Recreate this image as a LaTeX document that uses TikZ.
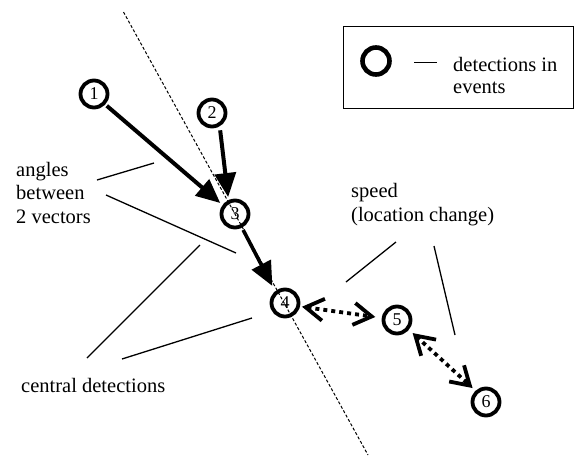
\documentclass[tikz,border=0pt]{standalone}
\usepackage{fontspec}
\setmainfont{Liberation Serif}
\usetikzlibrary{arrows.meta}
\begin{document}
\begin{tikzpicture}[x=1pt,y=-1pt,
  detection/.style={circle,draw,line width=3.8pt,minimum size=27pt,inner sep=0pt,
    font=\fontsize{18}{18}\selectfont},
  note/.style={align=left,inner sep=0pt,anchor=base west,
    font=\fontsize{20.5}{23.5}\selectfont},
  pointer/.style={line width=1.3pt},
  move/.style={line width=4pt,-{Triangle[length=24pt,width=21pt]}},
  hop/.style={line width=3.8pt,dash pattern=on 4pt off 4pt,
    {Straight Barb[length=18pt,width=22pt,line width=3.8pt]}-{Straight Barb[length=18pt,width=22pt,line width=3.8pt]}},
]
\useasboundingbox (0,0) rectangle (574,464);

% track axis
\coordinate (axtop) at (123.5,12);
\coordinate (axbot) at (368,455);
\draw[line width=1pt,dash pattern=on 3pt off 2pt] (axtop) -- (axbot);

% detections
\node[detection] (n1) at (94,94) {1};
\node[detection] (n2) at (212,113) {2};
\node[detection] (n3) at (235,214) {3};
\node[detection] (n4) at (285,303) {4};
\node[detection] (n5) at (397,320) {5};
\node[detection] (n6) at (486,402) {6};

% movement vectors
\draw[move,shorten <=2pt,shorten >=3pt] (n1.-43) -- (n3.144);
\draw[move,shorten <=4pt,shorten >=3pt] (n2.-60) -- (n3.115);
\draw[move,line width=3.6pt,shorten <=2.5pt,shorten >=6pt] (n3.-63) -- (n4.130);

% location changes
\draw[hop,shorten <=2pt,shorten >=6.5pt] (n4.-13) -- (n5.172);
\draw[hop,shorten <=5pt,shorten >=4pt] (n5.-39) -- (n6.133);

% labels (base anchor sits on the last line)
\node[note] (angles) at (16,223) {angles\\between\\2 vectors};
\node[note] (central) at (21,392) {central detections};
\node[note] (speed) at (351,221) {speed\\(location change)};

% pointer lines
\coordinate (a1s) at (97,180);  \coordinate (a1e) at (154,163);
\coordinate (a2s) at (106,195); \coordinate (a2e) at (236,253);
\coordinate (c1s) at (87,358);  \coordinate (c1e) at (200,245);
\coordinate (c2s) at (122,359); \coordinate (c2e) at (252,318);
\coordinate (s1s) at (346,282); \coordinate (s1e) at (396,242);
\coordinate (s2s) at (434,246); \coordinate (s2e) at (455,335);
\draw[pointer] (a1s) -- (a1e);
\draw[pointer] (a2s) -- (a2e);
\draw[pointer] (c1s) -- (c1e);
\draw[pointer] (c2s) -- (c2e);
\draw[pointer] (s1s) -- (s1e);
\draw[pointer] (s2s) -- (s2e);

% legend
\node[draw,line width=1.3pt,minimum width=230pt,minimum height=82pt,inner sep=0pt,anchor=north west] (legend) at (343,26) {};
\node[circle,draw,line width=4.6pt,minimum size=27pt,inner sep=0pt] (legcirc) at (376,61) {};
\coordinate (dashL) at (414,62.5);
\coordinate (dashR) at (437,62.5);
\draw[line width=1.2pt] (dashL) -- (dashR);
\node[note,font=\fontsize{20.5}{22}\selectfont] (legtext) at (453,93) {detections in\\events};
\end{tikzpicture}
\end{document}
